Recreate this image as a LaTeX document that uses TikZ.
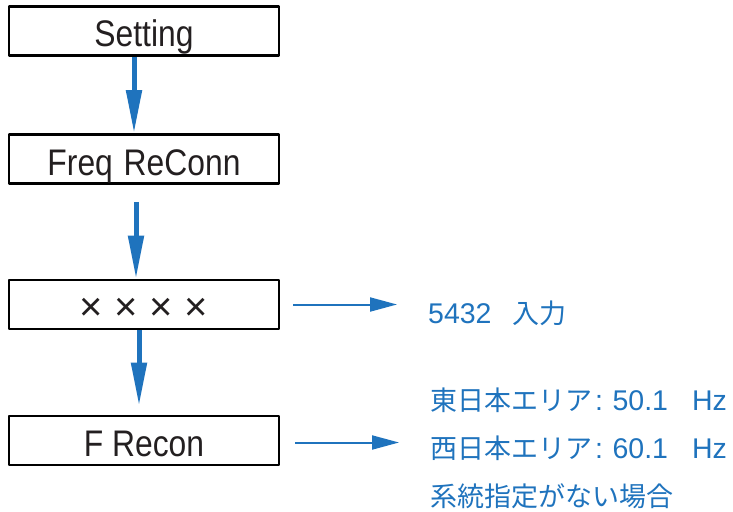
\documentclass[tikz,border=0pt]{standalone}
\usepackage{fontspec}
\setmainfont{Liberation Sans}
\newfontfamily\boxfont[FakeStretch=0.86]{Liberation Sans}
\newfontfamily\jpfont[Scale=0.947]{Noto Sans CJK JP}
\usetikzlibrary{arrows.meta}
\definecolor{flowblue}{HTML}{1F73BD}
\definecolor{boxtext}{HTML}{231F20}

\begin{document}
\begin{tikzpicture}[x=1pt, y=-1pt, line join=round,
  box/.style={draw=black, line width=2.7pt, minimum width=270pt, minimum height=49pt,
    inner sep=0pt, text height=32pt, text depth=0pt, text=boxtext,
    font=\boxfont\fontsize{37}{37}\selectfont},
  varrow/.style={draw=flowblue, line width=5pt, -{Triangle[length=43pt, width=15pt]}},
  harrow/.style={draw=flowblue, line width=2pt, -{Triangle[length=27pt, width=14pt]}},
  note/.style={anchor=base west, inner sep=0pt, text=flowblue, font=\fontsize{28.5}{28.5}\selectfont}]
  \useasboundingbox (0,0) rectangle (733,511);

  % left column
  \node[box] (setting) at (144,31) {Setting};
  \node[box] (freq) at (144,159) {Freq\hspace{2pt} ReConn};
  \node[box, font=\fontsize{40}{40}\selectfont] (code) at (144,304.5)
    {×\hspace{11.6pt}×\hspace{11.6pt}×\hspace{11.6pt}×};
  \node[box] (recon) at (144,440.5) {F Recon};

  % right notes
  \node[note] (input) at (428,323) {5432\hspace{21pt}{\jpfont 入力}};
  \node[note] (east) at (430,410) {{\jpfont 東日本エリア}\hspace{3pt}:\hspace{9.5pt}50.1\hspace{24pt}Hz};
  \node[note] (west) at (430,458) {{\jpfont 西日本エリア}\hspace{3pt}:\hspace{9.5pt}60.1\hspace{24pt}Hz};
  \node[note] (none) at (430,506) {\jpfont 系統指定がない場合};

  \draw[varrow] ([xshift=-10pt]setting.south) -- ([xshift=-10pt]freq.north);
  \draw[varrow, shorten <=17pt] ([xshift=-8pt]freq.south) -- ([xshift=-8pt]code.north);
  \draw[varrow, shorten >=9pt] ([xshift=-5pt]code.south) -- ([xshift=-5pt]recon.north);

  \draw[harrow, shorten <=13pt, shorten >=31pt] (code.east) -- (code.east -| input.west);
  \draw[harrow, shorten <=15pt, shorten >=31pt] ([yshift=-2pt]recon.east) -- ([yshift=-2pt]recon.east -| east.west);
\end{tikzpicture}
\end{document}
